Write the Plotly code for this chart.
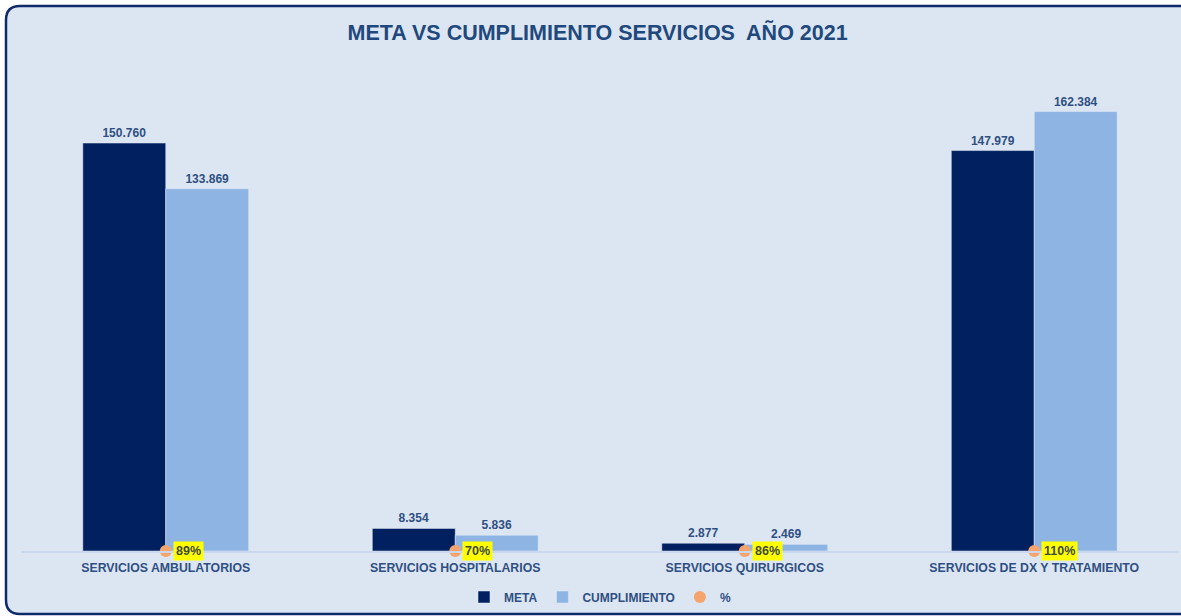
import plotly.graph_objects as go

categories = ["SERVICIOS AMBULATORIOS", "SERVICIOS HOSPITALARIOS",
              "SERVICIOS QUIRURGICOS", "SERVICIOS DE DX Y TRATAMIENTO"]
meta = [150760, 8354, 2877, 147979]
cumplimiento = [133869, 5836, 2469, 162384]
pct_labels = ["89%", "70%", "86%", "110%"]
pct_pos = [0, 0, 0, 0]

W, H = 1181, 616
ML, MR, MT, MB = 21, 2, 60, 65
pw = W - ML - MR
ph = H - MT - MB

def px(x):
    return (x - ML) / pw

def py(y):
    return (H - MB - y) / ph

label_col = "#2F4F82"
font_fam = "Liberation Sans, Arial, sans-serif"

fig = go.Figure()
fig.add_trace(go.Bar(
    name="<b>META</b>", x=categories, y=meta, marker_color="#002060",
    texttemplate="<b>%{y:,.0f}</b>", textposition="outside",
    textfont=dict(size=12, color=label_col, family=font_fam),
    cliponaxis=False,
))
fig.add_trace(go.Bar(
    name="<b>CUMPLIMIENTO</b>", x=categories, y=cumplimiento, marker_color="#8EB4E3",
    texttemplate="<b>%{y:,.0f}</b>", textposition="outside",
    textfont=dict(size=12, color=label_col, family=font_fam),
    cliponaxis=False,
))
fig.add_trace(go.Scatter(
    name="<b>%</b>", x=categories, y=pct_pos, mode="markers",
    marker=dict(color="#F4A46C", size=12, symbol="circle"),
    cliponaxis=False,
))

for c, t in zip(categories, pct_labels):
    fig.add_annotation(x=c, y=0, text="<b>%s</b>" % t, showarrow=False,
                       xanchor="left", yanchor="middle", xshift=7,
                       bgcolor="#FFFF00", borderpad=2,
                       font=dict(size=12.5, color="#3F4A3C", family=font_fam))

# rounded border of chart area
x0, x1 = px(6), px(1200)
y0, y1 = py(614), py(6)
rx, ry = 14 / pw, 14 / ph
path = (f"M {x0+rx},{y1} L {x1},{y1} L {x1},{y0} L {x0+rx},{y0} "
        f"Q {x0},{y0} {x0},{y0+ry} L {x0},{y1-ry} Q {x0},{y1} {x0+rx},{y1} Z")
fig.add_shape(type="path", path=path, xref="paper", yref="paper",
              fillcolor="#DCE6F2", line=dict(color="#0E2A6B", width=2.5),
              layer="below")

fig.update_layout(
    width=W, height=H,
    margin=dict(l=ML, r=MR, t=MT, b=MB),
    paper_bgcolor="white", plot_bgcolor="rgba(0,0,0,0)",
    separators=",.",
    barmode="group", bargap=0.427, bargroupgap=0,
    title=dict(text="<b>META VS CUMPLIMIENTO SERVICIOS  AÑO 2021</b>",
               x=0.506, xref="container", xanchor="center",
               y=1 - 32 / H, yref="container", yanchor="middle",
               font=dict(size=21.5, color="#1F497D", family=font_fam)),
    xaxis=dict(showline=True, linecolor="#C9D8EE", linewidth=1.5,
               showgrid=False, ticks="", ticklabelstandoff=4,
               tickvals=categories, ticktext=["<b>%s</b>" % c for c in categories],
               tickfont=dict(size=12.3, color=label_col, family=font_fam)),
    yaxis=dict(visible=False, range=[0, ph / 2.706 * 1000], showgrid=False),
    legend=dict(orientation="h", x=0.5, xanchor="center", y=py(597), yanchor="middle",
                font=dict(size=12, color=label_col, family=font_fam),
                bgcolor="rgba(0,0,0,0)", itemwidth=30, tracegroupgap=0),
    showlegend=True,
)
fig.write_html("out.html", config={"displayModeBar": False},
               post_script="document.body.style.margin='0';document.body.style.overflow='hidden';")
